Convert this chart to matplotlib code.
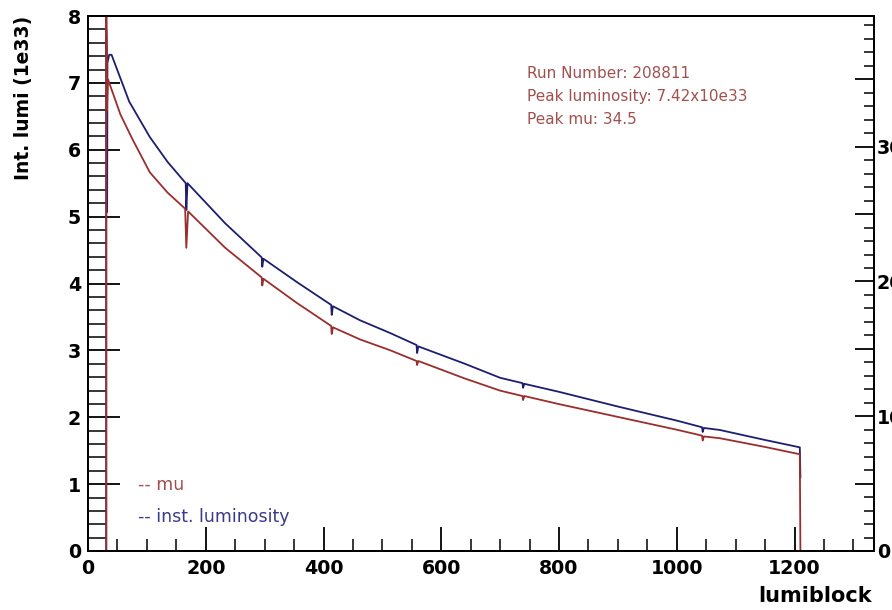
import numpy as np
import matplotlib
matplotlib.use("Agg")
import matplotlib.pyplot as plt
from matplotlib.ticker import MultipleLocator, FuncFormatter

plt.rcParams['font.family'] = ['DejaVu Sans']

# inst. luminosity (1e33) vs lumiblock
lumi_lb = [31, 31, 32, 32, 32.5, 33, 36, 40, 70, 105, 135, 166, 167, 169, 233, 295, 296, 298,
           355, 413, 414, 416, 462, 513, 558, 559, 561, 640, 700, 738, 739, 741,
           800, 900, 1000, 1043, 1044, 1046, 1073, 1150, 1209, 1210]
lumi_vals = [0, 7.8, 7.33, 5.4, 5.07, 7.3, 7.42, 7.42, 6.72, 6.19, 5.82, 5.50, 5.10, 5.50, 4.90, 4.39, 4.25, 4.37,
             4.02, 3.68, 3.53, 3.66, 3.45, 3.26, 3.08, 2.96, 3.06, 2.80, 2.59, 2.51, 2.44, 2.50,
             2.38, 2.16, 1.95, 1.85, 1.78, 1.84, 1.81, 1.66, 1.55, 1.1]

# mu vs lumiblock
mu_lb = [0, 31, 31, 32, 32, 34, 38, 55, 75, 105, 135, 165, 167, 170, 233, 295, 296, 298,
         355, 413, 414, 416, 462, 513, 558, 559, 561, 640, 700, 738, 739, 741,
         800, 900, 1000, 1043, 1044, 1046, 1073, 1150, 1209, 1210, 1335]
mu_vals = [0, 0, 42, 35.1, 32.7, 35.0, 34.5, 32.4, 30.6, 28.1, 26.6, 25.4, 22.5, 25.2, 22.5, 20.3, 19.7, 20.2,
           18.4, 16.7, 16.1, 16.6, 15.7, 14.9, 14.1, 13.8, 14.1, 12.8, 11.9, 11.5, 11.2, 11.5,
           10.9, 9.95, 9.0, 8.56, 8.2, 8.5, 8.37, 7.72, 7.18, 0, 0]

info_lines = ["Run Number: 208811", "Peak luminosity: 7.42x10e33", "Peak mu: 34.5"]

blue = '#1e1e6e'
red = '#9a2e2e'

fig = plt.figure(figsize=(8.92, 6.10), dpi=100)
ax = fig.add_axes([88/892, 1-551/610, (874-88)/892, (551-16)/610])
ax2 = ax.twinx()

ax.plot(lumi_lb, lumi_vals, color=blue, lw=1.3)
ax2.plot(mu_lb, mu_vals, color=red, lw=1.3)

ax.set_xlim(0, 1335)
ax.set_ylim(0, 8)
ax2.set_ylim(0, 39.7)

for a in (ax, ax2):
    for s in a.spines.values():
        s.set_linewidth(1.4)

ax.xaxis.set_major_locator(MultipleLocator(200))
ax.xaxis.set_minor_locator(MultipleLocator(50))
ax.yaxis.set_major_locator(MultipleLocator(1))
ax.yaxis.set_minor_locator(MultipleLocator(0.2))
ax.tick_params(axis='x', which='major', direction='in', length=17, width=1.3, pad=6,
               labelsize=13.7, top=False)
ax.tick_params(axis='x', which='minor', direction='in', length=9, width=1.1, top=False)
ax.tick_params(axis='y', which='major', direction='in', length=23, width=1.3, pad=5,
               labelsize=13.7, right=False)
ax.tick_params(axis='y', which='minor', direction='in', length=13, width=1.1, right=False)
for lab in ax.get_xticklabels() + ax.get_yticklabels():
    lab.set_fontweight('bold')

ax2.yaxis.set_major_locator(MultipleLocator(5))
ax2.yaxis.set_minor_locator(MultipleLocator(1))
ax2.yaxis.set_major_formatter(FuncFormatter(lambda v, p: '%d' % v if v % 10 == 0 else ''))
ax2.tick_params(axis='y', which='major', direction='in', length=14, width=1.3, pad=2,
                labelsize=13.7)
ax2.tick_params(axis='y', which='minor', direction='in', length=7, width=1.1)
for lab in ax2.get_yticklabels():
    lab.set_fontweight('bold')

fig.text(24/892, 1-16/610, "Int. lumi (1e33)", rotation=90, ha='center', va='top',
         fontsize=13.5, fontweight='bold')
fig.text(872/892, 1-596/610, "lumiblock", ha='right', va='center', fontsize=15,
         fontweight='bold')

for i, line in enumerate(info_lines):
    fig.text(527/892, 1-(73+23.5*i)/610, line, color='#a05050',
             fontsize=11, va='center', ha='left')

fig.text(138/892, 1-485/610, "-- mu", color='#a05050', fontsize=12.5, va='center')
fig.text(138/892, 1-517/610, "-- inst. luminosity", color='#3a3a8a', fontsize=12.5,
         va='center')

fig.savefig("out.png", dpi=100)
